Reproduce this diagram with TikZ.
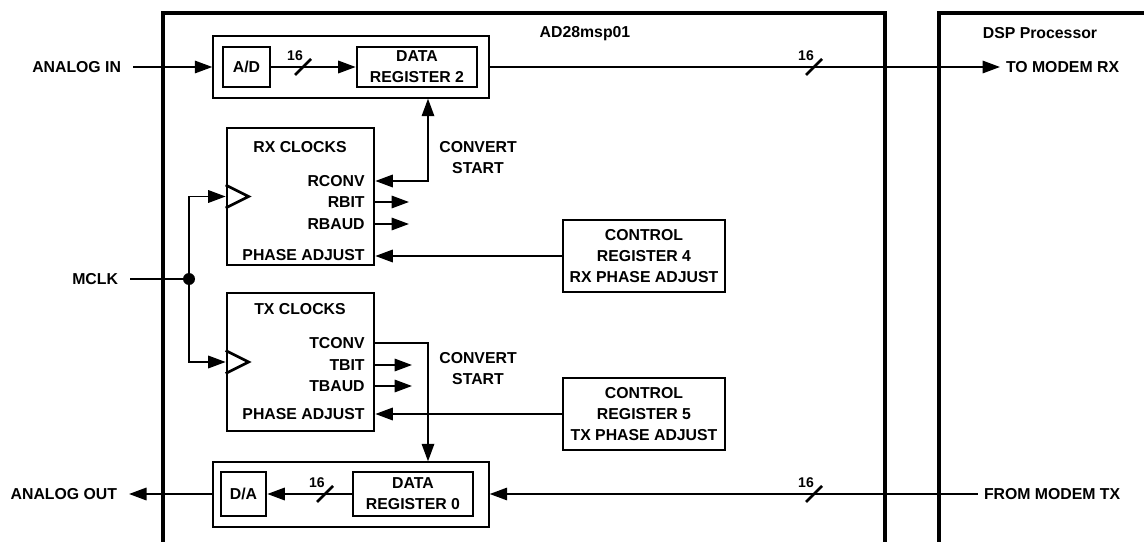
\documentclass[tikz,border=0pt]{standalone}
\usepackage{fontspec}
\setmainfont{Liberation Sans}
\usetikzlibrary{arrows.meta}
\newcommand{\sigfont}{\fontsize{9}{12}\selectfont\bfseries}
\newcommand{\busfont}{\fontsize{8}{9}\selectfont\bfseries}
\tikzset{chipline/.style={line width=1.9pt},
	 grp/.style={draw,line width=0.8pt,inner sep=0pt},
	 blk/.style={draw,line width=1.5pt,inner sep=0pt,align=center,font=\sigfont},
	 lbl/.style={inner sep=0pt,font=\sigfont},
	 pinl/.style={lbl,anchor=east,outer xsep=2.4mm},
	 pinr/.style={lbl,anchor=west,outer xsep=1.2mm},
	 sig/.style={line width=1pt},
	 clk/.style={line width=1.5pt,line join=miter},
	 dot/.style={circle,fill=black,inner sep=0pt,minimum size=2.4mm},
	 slash/.style={line width=1.6pt},
	 buswd/.style={inner sep=0pt,font=\busfont},
	 bus/.pic={\draw[slash] (-8,8) -- (8,-8); \node[buswd] (-w) at (-8,-11) {16};},
	 >={Triangle[length=3.5mm,width=2.5mm]}
	 }

\begin{document}
\begin{tikzpicture}[x=0.2mm,y=-0.2mm] % AD28msp01 data and clock paths
	\useasboundingbox (0,0) rectangle (1144,542);
	\draw[chipline] (163,542) |- (885,13) -- (885,542);
	\draw[chipline] (939,542) |- (1144,13);
	\node[lbl] (chipname) at (585,34) {AD28msp01};
	\node[lbl] (dspname) at (1040,33) {DSP Processor};
	% receive side
	\node[grp,minimum width=55.2mm,minimum height=12.4mm] (grp2) at (351,67) {};
	\node[blk,minimum width=9.4mm,minimum height=8mm] (adc) at (246.5,67) {A/D};
	\node[blk,minimum width=24mm,minimum height=8mm] (dr2) at (417,67) {DATA\\REGISTER 2};
	\node[pinl] (ain) at (133,67) {ANALOG IN};
	\node[pinr] (tomrx) at (1000,67) {TO MODEM RX};
	\draw[sig,->] (ain) -- (grp2.west |- ain);
	\draw[sig,->] (adc) -- (dr2);
	\draw[sig,->] (grp2.east |- dr2) -- (tomrx);
	\pic (busa) at (303,67) {bus};
	\pic (busb) at (814,67) {bus};
	% clocks
	\node[blk,minimum width=29.4mm,minimum height=27.4mm] (rxc) at (300.5,196.5) {};
	\node[lbl] (rxname) at (300,147) {RX CLOCKS};
	\node[lbl,anchor=east] (rconv) at (365,181) {RCONV};
	\node[lbl,anchor=east] (rbit) at (365,202) {RBIT};
	\node[lbl,anchor=east] (rbaud) at (365,224) {RBAUD};
	\node[lbl,anchor=east] (rpha) at (365,255) {PHASE ADJUST};
	\draw[clk] ([yshift=2.3mm]rxc.west) -- ([xshift=4.6mm]rxc.west) -- ([yshift=-2.3mm]rxc.west);
	\node[blk,minimum width=29.4mm,minimum height=27.6mm] (txc) at (300.5,362) {};
	\node[lbl] (txname) at (300,309) {TX CLOCKS};
	\node[lbl,anchor=east] (tconv) at (365,343) {TCONV};
	\node[lbl,anchor=east] (tbit) at (365,365) {TBIT};
	\node[lbl,anchor=east] (tbaud) at (365,386) {TBAUD};
	\node[lbl,anchor=east] (tpha) at (365,414) {PHASE ADJUST};
	\draw[clk] ([yshift=2.3mm]txc.west) -- ([xshift=4.6mm]txc.west) -- ([yshift=-2.3mm]txc.west);
	\coordinate (vx) at (428,0);
	\coordinate (rbito) at (409,202);
	\coordinate (rbaudo) at (409,224);
	\coordinate (tbito) at (412,365);
	\coordinate (tbaudo) at (412,386);
	\node[lbl,align=center] (csrx) at (478,158) {CONVERT\\START};
	\node[lbl,align=center] (cstx) at (478,369) {CONVERT\\START};
	\node[blk,minimum width=32.4mm,minimum height=14.4mm] (cr4) at (644,256) {CONTROL\\REGISTER 4\\RX PHASE ADJUST};
	\node[blk,minimum width=32.4mm,minimum height=14.4mm] (cr5) at (644,414) {CONTROL\\REGISTER 5\\TX PHASE ADJUST};
	\draw[sig,<->] (rxc.east |- rconv) -| (vx |- grp2.south);
	\draw[sig,->] (rxc.east |- rbit) -- (rbito);
	\draw[sig,->] (rxc.east |- rbaud) -- (rbaudo);
	\draw[sig,->] (cr4) -- (rxc.east |- cr4);
	\draw[sig,->] (txc.east |- tbit) -- (tbito);
	\draw[sig,->] (txc.east |- tbaud) -- (tbaudo);
	\draw[sig,->] (cr5) -- (txc.east |- cr5);
	% master clock
	\node[pinl] (mclk) at (130,279) {MCLK};
	\node[dot] (mdot) at (189,279) {};
	\draw[sig] (mclk) -- (mdot);
	\draw[sig,->] (mdot) |- (rxc.west);
	\draw[sig,->] (mdot) |- (txc.west);
	% transmit side
	\node[grp,minimum width=55.2mm,minimum height=13mm] (grp0) at (351,494.5) {};
	\node[blk,minimum width=9mm,minimum height=8.8mm] (dac) at (243.5,494) {D/A};
	\node[blk,minimum width=24mm,minimum height=8.8mm] (dr0) at (413,494) {DATA\\REGISTER 0};
	\node[pinl] (aout) at (129,494) {ANALOG OUT};
	\node[pinr] (frmtx) at (978,494) {FROM MODEM TX};
	\draw[sig,->] (txc.east |- tconv) -| (vx |- grp0.north);
	\draw[sig,<-] (dac) -- (dr0);
	\draw[sig,->] (grp0.west |- dac) -- (aout);
	\draw[sig,<-] (grp0.east |- dr0) -- (frmtx);
	\pic (busc) at (325,494) {bus};
	\pic (busd) at (814,494) {bus};
\end{tikzpicture}
\end{document}
